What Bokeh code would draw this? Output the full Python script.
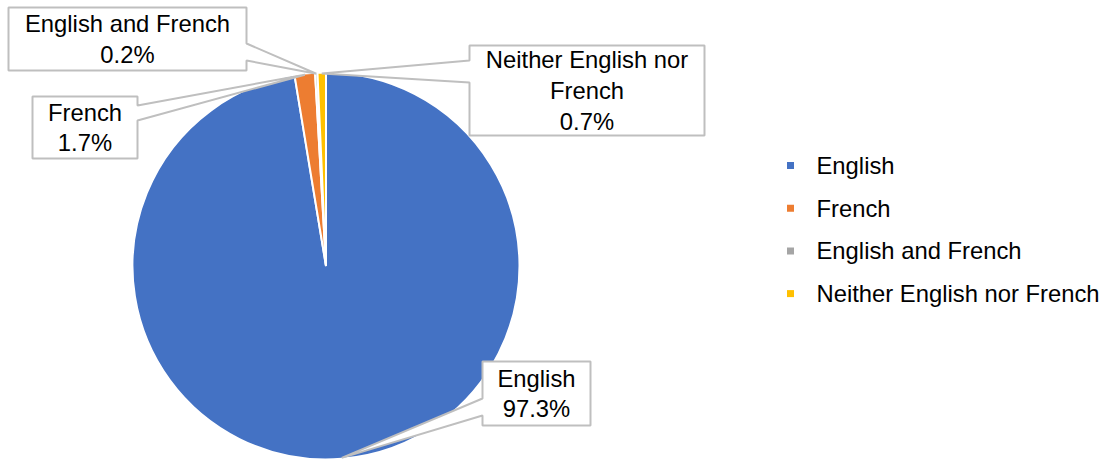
import numpy as np
from bokeh.plotting import figure
from bokeh.models import Range1d
from bokeh.embed import file_html
from bokeh.resources import INLINE
from bokeh.core.properties import value

# ---- data ----
categories = ["English", "French", "English and French", "Neither English nor French"]
shares = [97.3, 1.7, 0.2, 0.7]
colors = ["#4472C4", "#ED7D31", "#A5A5A5", "#FFC000"]
label_names = ["English", "French", "English and French", "Neither English nor\nFrench"]

# ---- layout (pixel coordinates, y measured from top) ----
W, H = 1109, 459
CX, CY, R = 325.5, 265.5, 193.5
# callout boxes: left, right, top, bottom, attach y1, attach y2, side of attachment
boxes = [
    (482, 590, 361, 425, 398, 415, "left"),
    (32, 137, 96, 158, 105, 120, "right"),
    (8, 246, 7, 70, 43, 60, "right"),
    (469, 704, 45, 135, 60, 82, "left"),
]
legend_x, legend_text_x = 790, 816
legend_y0, legend_dy = 165, 42.7
FONT = value("Liberation Sans")
FS = "23.8px"


def Y(y):
    return H - y


p = figure(width=W, height=H, x_range=Range1d(0, W), y_range=Range1d(0, H),
           output_backend="svg", toolbar_location=None, min_border=0,
           x_axis_location=None, y_axis_location=None)
p.grid.visible = False
p.outline_line_color = None
p.background_fill_color = "white"

vals = np.array(shares, dtype=float)
total = vals.sum()
cum = np.cumsum(vals)
start = np.pi / 2 - 2 * np.pi * (cum - vals) / total
end = np.pi / 2 - 2 * np.pi * cum / total
mid = (start + end) / 2

p.wedge(x=CX, y=Y(CY), radius=R, start_angle=list(start), end_angle=list(end),
        direction="clock", fill_color=colors, line_color="white", line_width=2)

# callouts
xs, ys, tx, ty, texts = [], [], [], [], []
for i, (L, Rr, T, B, a1, a2, side) in enumerate(boxes):
    tipx = CX + (R - 1) * np.cos(mid[i])
    tipy = CY - (R - 1) * np.sin(mid[i])
    if side == "left":
        pts = [(L, T), (Rr, T), (Rr, B), (L, B), (L, a2), (tipx, tipy), (L, a1)]
    else:
        pts = [(L, T), (Rr, T), (Rr, a1), (tipx, tipy), (Rr, a2), (Rr, B), (L, B)]
    xs.append([q[0] for q in pts])
    ys.append([Y(q[1]) for q in pts])
    tx.append((L + Rr) / 2)
    ty.append(Y((T + B) / 2))
    texts.append(f"{label_names[i]}\n{shares[i]:.1f}%")

p.patches(xs=xs, ys=ys, fill_color="white", line_color="#BFBFBF", line_width=2)
p.text(x=tx, y=ty, text=texts, text_align="center", text_baseline="middle",
       text_font=FONT, text_font_size=FS, text_line_height=1.13, text_color="#000000")

# legend
ly = [Y(legend_y0 + i * legend_dy) for i in range(len(categories))]
p.scatter(x=[legend_x] * len(categories), y=ly, marker="square", size=7,
          fill_color=colors, line_color=None)
p.text(x=[legend_text_x] * len(categories), y=ly, text=categories, text_align="left",
       text_baseline="middle", text_font=FONT, text_font_size=FS, text_color="#000000")

open("out.html", "w").write(file_html(p, INLINE))
